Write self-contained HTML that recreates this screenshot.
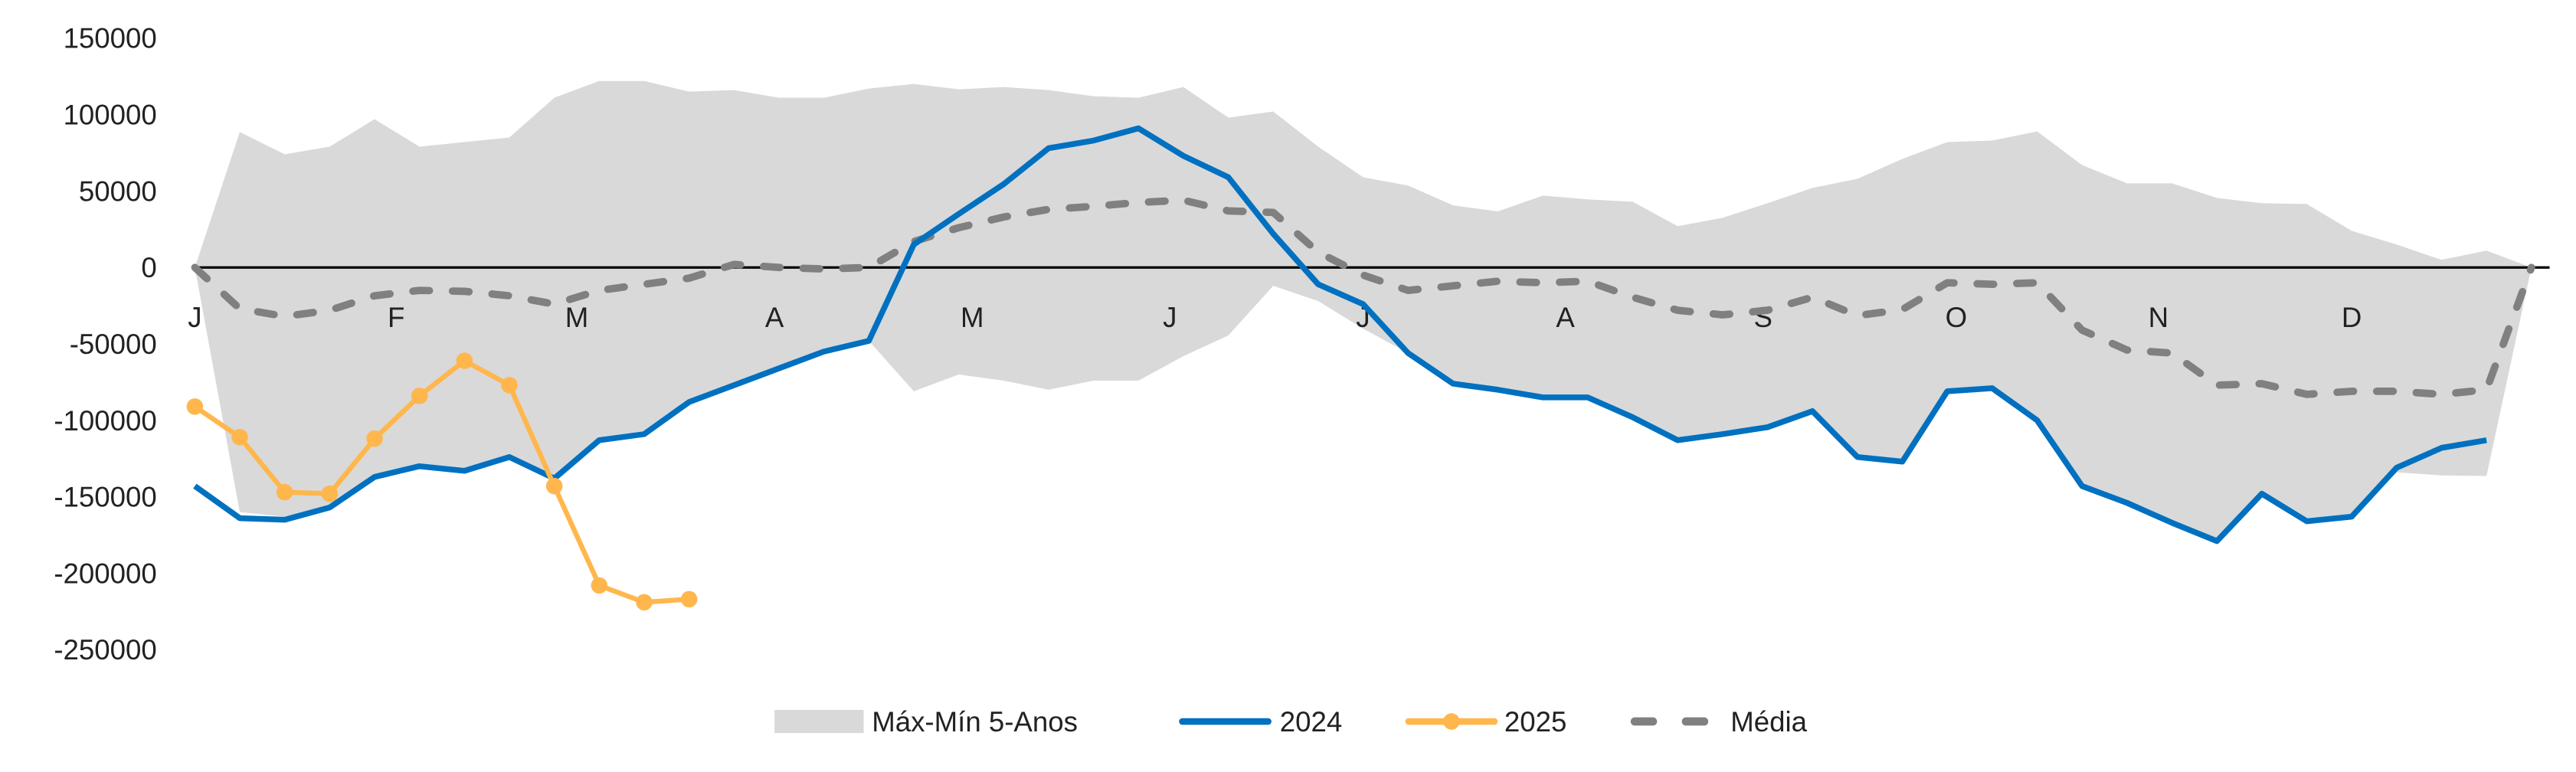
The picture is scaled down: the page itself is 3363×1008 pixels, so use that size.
<!DOCTYPE html>
<html><head><meta charset="utf-8"><style>
html,body{margin:0;padding:0;background:#fff;}
svg{display:block;font-family:"Liberation Sans",sans-serif;}
</style></head><body>
<svg id="chart" width="3363" height="1008" viewBox="0 0 1560 467.6" preserveAspectRatio="none" xmlns="http://www.w3.org/2000/svg">
<g id="band"></g>
<line x1="118" y1="162" x2="1544" y2="162" stroke="#000" stroke-width="1.5"/>
<g id="yticks"></g>
<g id="xticks"></g>
<g id="series"></g>
<g font-size="17" fill="#222">
  <rect x="469" y="430" width="54" height="14" fill="#d9d9d9"/>
  <text x="528" y="443">Máx-Mín 5-Anos</text>
  <line x1="716" y1="437" x2="768" y2="437" stroke="#0070c0" stroke-width="4" stroke-linecap="round"/>
  <text x="775" y="443">2024</text>
  <line x1="853" y1="437" x2="905" y2="437" stroke="#ffb74d" stroke-width="4" stroke-linecap="round"/>
  <circle cx="879" cy="437" r="5" fill="#ffb74d"/>
  <text x="911" y="443">2025</text>
  <line x1="990" y1="437" x2="1040" y2="437" stroke="#808080" stroke-width="5" stroke-dasharray="11 20" stroke-linecap="round"/>
  <text x="1048" y="443">Média</text>
</g>
</svg>
<script>
const yTicks = [150000,100000,50000,0,-50000,-100000,-150000,-200000,-250000];
const monthLabels = ["J","F","M","A","M","J","J","A","S","O","N","D"];
const monthWeeks = [0,4.48,8.5,12.9,17.3,21.7,26,30.5,34.9,39.2,43.7,48];
const s2024 = [-143,-164,-165,-157,-137,-130,-133,-124,-138,-113,-109,-88,-77,-66,-55,-48,15,35,54.5,78,83,91,73,59,22,-11,-24,-56,-76,-80,-85,-85,-98,-113,-109,-104.5,-94,-124,-127,-81,-79,-100,-143,-154,-167,-179,-148,-166,-163,-131,-118,-113];
const s2025 = [-91,-111,-147,-148,-112,-84,-61,-77,-143,-208,-219,-217];
const sMedia = [0,-27,-32,-28,-18.5,-15,-15.6,-18.5,-24,-15,-11,-7,2,0,-1,0,17,26,33,38,40,42.5,44,37,36,10,-5,-15,-12,-9,-10,-9,-19.5,-28,-31,-28,-19.5,-31.5,-27.5,-10,-11,-10,-41,-54,-56,-77,-76,-83,-81,-81,-83,-80,0];
const sMax = [0,88.6,74,79,97,79,82,85,111,122,122,115,116,111,111,117,120,116.5,118,116,112,111,118,98,102,79,59,53.6,40.6,36.7,47,44.5,43,27,32.5,42,52,58,71,82,83,89,67,55,55,45.5,42,41.5,24,15,5,11,0];
const sMin = [0,-160,-163,-155,-135,-128,-131,-122,-136,-111,-107,-86,-75,-64,-55,-48,-81,-70,-74,-80,-74,-74,-58,-44.5,-12,-22,-40,-56,-76,-80,-85,-85,-98,-113,-109,-104.5,-94,-124,-127,-81,-79,-100,-143,-154,-167,-179,-148,-166,-163,-134,-136,-136.4,0];

const NS="http://www.w3.org/2000/svg";
const X0=118, X1=1533, N=52;
const x = i => X0 + i*(X1-X0)/N;
const y = v => 162 - v*46.3/50;   // v in thousands
const yv = v => 162 - v*46.3/50000;
function mk(tag, parent){const e=document.createElementNS(NS,tag);parent.appendChild(e);return e;}

const yg=document.getElementById('yticks');
yTicks.forEach(t=>{
  const e=mk('text',yg);
  
  
  e.setAttribute('x',95);e.setAttribute('y',yv(t)+6);
  e.setAttribute('text-anchor','end');e.setAttribute('font-size','17');e.setAttribute('fill','#222');
  e.textContent=String(t);
});
const xg=document.getElementById('xticks');
monthLabels.forEach((m,k)=>{
  const e=mk('text',xg);
  
  
  e.setAttribute('x',x(monthWeeks[k]));e.setAttribute('y',198);
  e.setAttribute('text-anchor','middle');e.setAttribute('font-size','17');e.setAttribute('fill','#222');
  e.textContent=m;
});
const bg=document.getElementById('band');
let d='M'+sMax.map((v,i)=>x(i)+','+y(v)).join(' L');
for(let i=sMin.length-1;i>=0;i--) d+=' L'+x(i)+','+y(sMin[i]);
const band=mk('path',bg);


band.setAttribute('d',d+'Z');band.setAttribute('fill','#d9d9d9');

const sg=document.getElementById('series');
function line(arr,name,color,w,dash){
  const p=mk('polyline',sg);
  
  
  p.setAttribute('points',arr.map((v,i)=>x(i)+','+y(v)).join(' '));
  p.setAttribute('fill','none');p.setAttribute('stroke',color);p.setAttribute('stroke-width',w);
  p.setAttribute('stroke-linejoin','round');
  if(dash){p.setAttribute('stroke-dasharray',dash);p.setAttribute('stroke-linecap','round');}
  return p;
}
line(sMedia,'media-line','#808080',4.5,'10 14');
line(s2024,'line-2024','#0070c0',3.5);
line(s2025,'line-2025','#ffb74d',3);
s2025.forEach((v,i)=>{
  const c=mk('circle',sg);
  
  
  c.setAttribute('cx',x(i));c.setAttribute('cy',y(v));c.setAttribute('r',5);c.setAttribute('fill','#ffb74d');
});
</script>
</body></html>
